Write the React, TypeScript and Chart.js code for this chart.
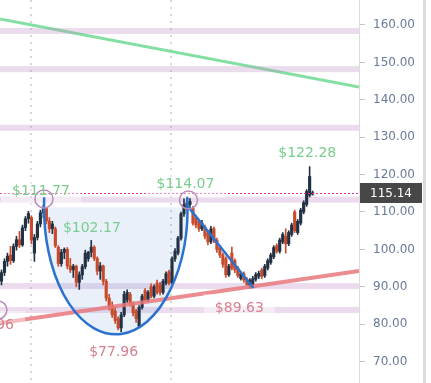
import { useEffect, useRef } from 'react';
import { Chart, registerables } from 'chart.js';

Chart.register(...registerables);

// ---- candle data (index = trading session) ----
const opens = [91.5, 93.8, 96.8, 98.5, 97.0, 100.8, 102.6, 101.2, 105.8, 108.2, 108.5, 99.0, 103.2, 106.8, 109.8, 110.9, 107.6, 105.5, 105.5, 100.6, 96.2, 99.2, 100.0, 95.6, 94.5, 95.5, 91.2, 93.2, 95.4, 97.5, 99.2, 100.6, 97.6, 94.2, 95.6, 91.5, 87.0, 85.0, 83.5, 81.5, 79.0, 82.5, 86.5, 88.0, 85.5, 83.5, 79.5, 84.5, 89.0, 86.5, 90.0, 87.5, 91.0, 90.5, 88.5, 91.0, 94.0, 91.0, 97.5, 99.0, 103.0, 109.5, 111.0, 112.0, 111.0, 108.5, 107.5, 105.5, 106.0, 104.5, 102.0, 105.5, 102.5, 100.5, 98.5, 97.5, 93.2, 99.0, 97.0, 95.0, 92.2, 93.5, 92.0, 90.2, 90.5, 92.0, 92.8, 94.5, 93.0, 95.0, 96.5, 98.0, 101.0, 99.5, 102.0, 103.5, 101.5, 104.0, 110.0, 104.5, 107.0, 110.0, 112.0, 114.5, 114.8];
const highs = [94.5, 97.5, 99.0, 100.8, 101.5, 103.5, 104.8, 106.5, 108.8, 110.2, 109.0, 104.0, 107.5, 110.5, 111.77, 111.2, 108.5, 107.5, 106.0, 101.0, 100.0, 100.4, 100.5, 97.6, 96.0, 95.8, 94.0, 96.0, 99.8, 99.5, 102.4, 101.0, 98.0, 96.5, 95.8, 92.0, 88.0, 86.0, 84.5, 82.0, 83.2, 88.8, 89.2, 88.5, 86.0, 84.0, 85.0, 88.0, 89.5, 89.0, 90.8, 90.5, 91.8, 91.2, 92.0, 94.0, 94.5, 98.0, 100.2, 103.5, 110.0, 113.5, 114.07, 113.6, 111.5, 109.0, 108.0, 107.8, 106.5, 105.0, 106.2, 106.0, 103.0, 101.0, 99.0, 98.0, 96.0, 100.6, 97.5, 95.5, 94.0, 94.0, 92.5, 92.2, 92.8, 93.8, 94.2, 95.0, 96.0, 97.5, 99.0, 101.0, 101.5, 103.0, 104.5, 105.5, 105.0, 107.0, 110.5, 108.0, 111.0, 113.0, 116.0, 122.28, 115.6];
const lows = [90.5, 93.0, 95.5, 96.0, 96.5, 99.8, 100.5, 100.8, 105.0, 107.0, 101.5, 96.8, 102.5, 106.0, 108.5, 106.8, 104.5, 104.2, 100.5, 95.5, 95.5, 97.5, 94.8, 93.8, 92.5, 90.0, 89.3, 92.0, 94.8, 96.8, 98.0, 97.0, 93.2, 92.0, 90.5, 86.2, 83.8, 81.8, 80.2, 78.5, 77.96, 82.0, 85.8, 84.8, 82.2, 80.5, 79.0, 84.0, 86.0, 86.0, 87.0, 87.0, 88.0, 87.8, 88.0, 90.5, 90.5, 90.8, 96.8, 98.5, 102.5, 108.8, 110.5, 111.2, 106.5, 105.8, 104.8, 105.0, 102.8, 101.2, 101.5, 101.8, 99.2, 97.8, 95.2, 92.5, 92.8, 94.5, 93.8, 92.5, 91.8, 91.2, 90.2, 89.63, 90.0, 91.5, 92.2, 92.2, 92.5, 94.5, 96.0, 97.5, 99.0, 99.0, 101.5, 99.0, 101.0, 103.5, 104.5, 104.0, 106.5, 109.5, 111.5, 114.0, 114.5];
const closes = [93.8, 96.8, 98.2, 97.0, 100.8, 102.6, 101.2, 105.8, 108.2, 109.6, 102.5, 103.2, 106.8, 109.8, 110.9, 107.6, 105.5, 106.8, 101.0, 96.2, 99.2, 100.0, 95.6, 94.5, 95.5, 91.2, 93.2, 95.4, 99.0, 99.2, 100.6, 97.6, 94.2, 95.6, 91.5, 87.0, 84.5, 82.5, 81.0, 79.0, 82.5, 88.0, 88.5, 85.5, 83.0, 81.5, 84.5, 87.5, 86.5, 88.5, 87.5, 90.0, 88.5, 88.5, 91.5, 93.5, 91.0, 97.5, 99.5, 103.0, 109.5, 112.0, 112.5, 112.8, 107.0, 106.5, 105.5, 107.0, 103.5, 102.0, 105.5, 102.5, 100.0, 98.5, 96.0, 93.2, 95.5, 95.0, 94.5, 93.0, 93.5, 91.8, 90.6, 91.8, 92.2, 93.3, 93.6, 92.8, 95.5, 97.0, 98.5, 100.5, 99.5, 102.5, 104.0, 101.5, 104.5, 106.5, 105.0, 107.5, 110.5, 112.5, 115.5, 119.5, 115.14];

// ---- axis ----
const yMin = 64.28;
const yMax = 166.68;
const yStep = 10;
const slotMin = -0.5;
const slotMax = 119.5;
const gridDates = [9.8, 56.8];
const lastPrice = 115.14;

// ---- drawings (index, price) ----
const bandLevels = [158.4, 148.2, 132.5, 113.3, 90.2, 83.8];
const bandHalf = 0.8;
const resistX = [-0.5, 119.5];
const resistY = [161.6, 143.4];
const supportX = [-0.5, 119.5];
const supportY = [80.3, 94.2];
const flagX = [62.5, 84.2];
const flagY = [111.3, 89.7];
const cupCenterX = 38.2;
const cupHalfWidth = 24;
const cupRim = 111.3;
const cupBottom = 77.3;
const cupTip = 113.9;
const circleX = [14.2, 62.5, -1.2];
const circleY = [113.5, 113.2, 83.8];
const labelTexts = ['$111.77', '$114.07', '$102.17', '$122.28', '$77.96', '$89.63', '$79.96'];
const labelX = [13.2, 61.5, 30.2, 102.2, 37.5, 79.5, -4];
const labelY = [115.6, 117.5, 105.7, 125.8, 72.6, 84.3, 79.8];
const labelIsHigh = [true, true, true, true, false, false, false];
const labelBoxed = [true, true, false, true, true, true, true];

const UP = '#223244';
const DOWN = '#c94a2a';
const GREEN_TEXT = '#79cc8c';
const PINK_TEXT = '#d7818f';
const BLUE = '#2b72cf';
const FONT = '"DejaVu Sans", Verdana, sans-serif';

const overlay = {
  id: 'overlay',
  beforeDatasetsDraw(chart: any) {
    const { ctx, chartArea: a, scales } = chart;
    const x = scales.x, y = scales.y;
    ctx.save();
    ctx.beginPath();
    ctx.rect(a.left, a.top, a.right - a.left, a.bottom - a.top);
    ctx.clip();
    // dotted date grid
    ctx.strokeStyle = '#d6d6d6';
    ctx.lineWidth = 2;
    ctx.setLineDash([2, 5]);
    gridDates.forEach((d) => {
      const px = Math.round(x.getPixelForValue(d));
      ctx.beginPath();
      ctx.moveTo(px, a.top);
      ctx.lineTo(px, a.bottom);
      ctx.stroke();
    });
    ctx.setLineDash([]);
    // resistance line (green)
    ctx.strokeStyle = '#84e0a2';
    ctx.lineWidth = 3;
    ctx.beginPath();
    ctx.moveTo(x.getPixelForValue(resistX[0]), y.getPixelForValue(resistY[0]));
    ctx.lineTo(x.getPixelForValue(resistX[1]), y.getPixelForValue(resistY[1]));
    ctx.stroke();
    // bands
    ctx.fillStyle = 'rgba(190,140,195,0.3)';
    bandLevels.forEach((b) => {
      const t = y.getPixelForValue(b + bandHalf);
      const bt = y.getPixelForValue(b - bandHalf);
      ctx.fillRect(a.left, t, a.right - a.left, bt - t);
    });
    // cup fill
    const cx = x.getPixelForValue(cupCenterX);
    const cy = y.getPixelForValue(cupRim);
    const rx = x.getPixelForValue(cupCenterX + cupHalfWidth) - cx;
    const ry = y.getPixelForValue(cupBottom) - cy;
    ctx.fillStyle = 'rgba(70,130,210,0.12)';
    ctx.beginPath();
    ctx.ellipse(cx, cy, rx, ry, 0, 0, Math.PI);
    ctx.closePath();
    ctx.fill();
    ctx.restore();
  },
  afterDatasetsDraw(chart: any) {
    const { ctx, chartArea: a, scales } = chart;
    const x = scales.x, y = scales.y;
    ctx.save();
    ctx.beginPath();
    ctx.rect(a.left, a.top, a.right - a.left, a.bottom - a.top);
    ctx.clip();
    // support line (red)
    ctx.strokeStyle = 'rgba(232,120,125,0.85)';
    ctx.lineWidth = 4;
    ctx.beginPath();
    ctx.moveTo(x.getPixelForValue(supportX[0]), y.getPixelForValue(supportY[0]));
    ctx.lineTo(x.getPixelForValue(supportX[1]), y.getPixelForValue(supportY[1]));
    ctx.stroke();
    // last price dotted line
    const py = Math.round(y.getPixelForValue(lastPrice)) + 0.5;
    ctx.strokeStyle = '#e0358c';
    ctx.lineWidth = 1;
    ctx.setLineDash([2, 2]);
    ctx.beginPath();
    ctx.moveTo(a.left, py);
    ctx.lineTo(a.right, py);
    ctx.stroke();
    ctx.setLineDash([]);
    // label boxes
    ctx.font = '14px ' + FONT;
    ctx.fillStyle = 'rgba(255,255,255,0.42)';
    labelTexts.forEach((t, i) => {
      if (!labelBoxed[i]) return;
      const w = ctx.measureText(t).width;
      const lx = x.getPixelForValue(labelX[i]);
      const ly = y.getPixelForValue(labelY[i]);
      ctx.fillRect(lx - w / 2 - 11, ly - 14, w + 22, 28);
    });
    // cup stroke
    const cx = x.getPixelForValue(cupCenterX);
    const cy = y.getPixelForValue(cupRim);
    const rx = x.getPixelForValue(cupCenterX + cupHalfWidth) - cx;
    const ry = y.getPixelForValue(cupBottom) - cy;
    const lift = cy - y.getPixelForValue(cupTip);
    const th = Math.asin(Math.min(0.99, lift / ry));
    ctx.strokeStyle = BLUE;
    ctx.lineWidth = 2.5;
    ctx.beginPath();
    ctx.ellipse(cx, cy, rx, ry, 0, -th, Math.PI + th);
    ctx.stroke();
    // flag line
    ctx.beginPath();
    ctx.moveTo(x.getPixelForValue(flagX[0]), y.getPixelForValue(flagY[0]));
    ctx.lineTo(x.getPixelForValue(flagX[1]), y.getPixelForValue(flagY[1]));
    ctx.stroke();
    // circles
    ctx.strokeStyle = '#b98bbb';
    ctx.lineWidth = 1.5;
    circleX.forEach((cxv, i) => {
      ctx.beginPath();
      ctx.arc(x.getPixelForValue(cxv), y.getPixelForValue(circleY[i]), 9, 0, Math.PI * 2);
      ctx.stroke();
    });
    // texts
    ctx.textAlign = 'center';
    ctx.textBaseline = 'middle';
    labelTexts.forEach((t, i) => {
      ctx.fillStyle = labelIsHigh[i] ? GREEN_TEXT : PINK_TEXT;
      ctx.fillText(t, x.getPixelForValue(labelX[i]), y.getPixelForValue(labelY[i]));
    });
    ctx.restore();
  },
  afterDraw(chart: any) {
    const { ctx, chartArea: a, scales } = chart;
    const y = scales.y;
    const py = Math.round(y.getPixelForValue(lastPrice));
    ctx.save();
    ctx.fillStyle = '#474747';
    ctx.fillRect(a.right + 1, py - 10, 62, 20);
    ctx.fillStyle = '#ffffff';
    ctx.font = '12px ' + FONT;
    ctx.textAlign = 'center';
    ctx.textBaseline = 'middle';
    ctx.fillText(lastPrice.toFixed(2), a.right + 32, py + 1);
    ctx.restore();
  },
};

export default function App() {
  const ref = useRef<HTMLCanvasElement>(null);
  useEffect(() => {
    const colors = opens.map((o, i) => (closes[i] >= o ? UP : DOWN));
    const chart = new Chart(ref.current as HTMLCanvasElement, {
      type: 'bar',
      data: {
        datasets: [
          {
            label: 'body',
            data: opens.map((o, i) => ({ x: i, y: [o, closes[i]] })) as any,
            backgroundColor: colors,
            barThickness: 2.5,
            grouped: false,
            borderWidth: 0,
          } as any,
          {
            label: 'wick',
            data: lows.map((l, i) => ({ x: i, y: [l, highs[i]] })) as any,
            backgroundColor: colors,
            barThickness: 1,
            grouped: false,
            borderWidth: 0,
          } as any,
        ],
      },
      options: {
        responsive: false,
        animation: false,
        devicePixelRatio: 1,
        layout: { padding: 0 },
        plugins: { legend: { display: false }, tooltip: { enabled: false } },
        scales: {
          x: {
            type: 'linear',
            display: false,
            min: slotMin,
            max: slotMax,
            offset: false,
          },
          y: {
            type: 'linear',
            position: 'right',
            min: yMin,
            max: yMax,
            afterFit: (s: any) => {
              s.width = 72;
              s.paddingTop = 0;
              s.paddingBottom = 0;
            },
            border: { display: true, color: '#dcdcdc' },
            grid: { drawOnChartArea: false, drawTicks: true, tickLength: 6, color: '#c4c4c4' },
            ticks: {
              stepSize: yStep,
              includeBounds: false,
              padding: 8,
              color: '#6a7a99',
              font: { family: FONT, size: 12 },
              callback: (v: any) => Number(v).toFixed(2),
            },
          },
        },
      } as any,
      plugins: [overlay],
    });
    return () => chart.destroy();
  }, []);
  return (
    <div style={{ position: 'fixed', left: 0, top: 0, width: 431, height: 383, background: '#fff', overflow: 'hidden' }}>
      <canvas ref={ref} width={431} height={383} style={{ display: 'block' }} />
      <div style={{ position: 'absolute', left: 423, top: 0, width: 3, height: 383, background: '#dcdcdc' }} />
    </div>
  );
}
